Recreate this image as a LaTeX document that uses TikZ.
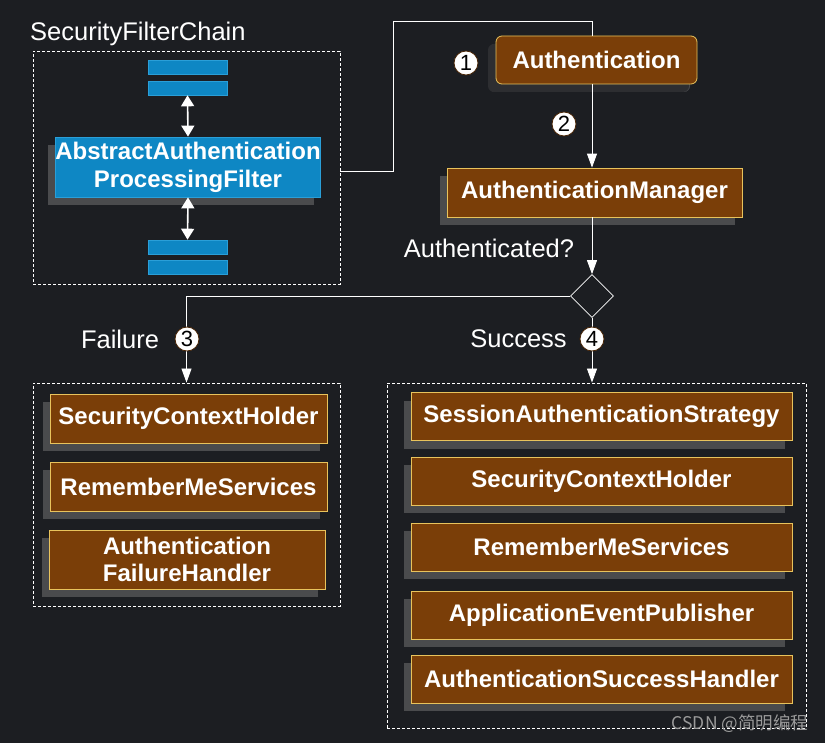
\documentclass[tikz,border=0pt]{standalone}
\usepackage{fontspec}
\setmainfont{Liberation Sans}
\newfontfamily\cjkfont{Noto Sans CJK SC}
\usepackage{tikz}
\usetikzlibrary{positioning,arrows.meta,shapes.geometric,shadows}

\definecolor{bgdark}{HTML}{1C1E22}
\definecolor{boxbrown}{HTML}{7A3E08}
\definecolor{boxedge}{HTML}{E8C35C}
\definecolor{filterblue}{HTML}{0E87C4}
\definecolor{filteredge}{HTML}{2A9FD8}
\definecolor{shadowgray}{HTML}{4A4B4D}
\definecolor{shadowdark}{HTML}{2D2E31}
\definecolor{markgray}{HTML}{9A9A9A}

\tikzset{
  box/.style={draw=boxedge, line width=0.8pt, fill=boxbrown, text=white,
    font=\fontsize{24}{27}\selectfont\bfseries, align=center, inner sep=0pt,
    drop shadow={shadow xshift=-7pt, shadow yshift=-8pt, fill=shadowgray, opacity=1}},
  filterbox/.style={draw=filteredge, line width=0.8pt, fill=filterblue, text=white,
    font=\fontsize{24}{28}\selectfont\bfseries, align=center, inner sep=0pt,
    drop shadow={shadow xshift=-7pt, shadow yshift=-8pt, fill=shadowgray, opacity=1}},
  bar/.style={draw=filteredge, line width=0.6pt, fill=filterblue,
    minimum width=79pt, minimum height=14pt, inner sep=0pt},
  group/.style={draw=white, line width=0.9pt, dash pattern=on 3pt off 2pt,
    inner sep=0pt},
  label/.style={text=white, font=\fontsize{25.5}{30}\selectfont, inner sep=0pt},
  num/.style={circle, fill=white, draw=boxbrown!60!black, line width=0.8pt,
    minimum size=24pt, inner sep=0pt, text=black, font=\fontsize{22}{22}\selectfont},
  link/.style={draw=white, line width=0.9pt},
  arrow/.style={link, -{Triangle[width=10pt,length=14pt]}},
  dblarrow/.style={draw=white, line width=1.6pt,
    {Triangle[width=13pt,length=11pt]}-{Triangle[width=13pt,length=11pt]}},
}

\begin{document}
\begin{tikzpicture}[x=1pt,y=-1pt]
  % Background and page size
  \fill[bgdark] (0,0) rectangle (825,743);
  \useasboundingbox (0,0) rectangle (825,743);

  % Security filter chain
  \node[label, anchor=base west] (chaintitle) at (30,41) {SecurityFilterChain};
  \node[group, minimum width=307pt, minimum height=233pt] (chain) at (186.5,167.5) {};
  \foreach \name/\y in {bar1/67, bar2/88, bar3/247, bar4/267} {
    \node[bar] (\name) at (187.5,\y) {};
  }
  \node[filterbox, minimum width=264pt, minimum height=60pt] (filter) at (188,167)
    {AbstractAuthentication\\ProcessingFilter};
  \draw[dblarrow] (bar2.south) -- (filter.north);
  \draw[dblarrow] (filter.south) -- (bar3.north);

  % Authentication and manager
  \coordinate (spine) at (592,0);
  \coordinate (bend) at (393,21);
  \node[box, rounded corners=6pt, minimum width=201pt, minimum height=48pt,
    drop shadow={shadow xshift=-8pt, shadow yshift=-8pt, fill=shadowdark, opacity=1}]
    (auth) at (596.5,60) {Authentication};
  \node[box, minimum width=295pt, minimum height=49pt] (manager) at (594.5,192.5)
    {AuthenticationManager};
  \node[num] (n1) at (466,63) {1};
  \node[num] (n2) at (564,124) {2};
  \draw[link] (chain.east |- 0,171) -| (bend) -| (auth.north -| spine);
  \draw[arrow] (auth.south -| spine) -- (manager.north -| spine);

  % Decision
  \node[label] (question) at (489,248) {Authenticated?};
  \node[diamond, draw=white, line width=0.7pt, minimum width=43pt, minimum height=43pt,
    inner sep=0pt] (decision) at (592,296) {};
  \draw[arrow] (manager.south -| spine) -- (decision.north);

  % Failure branch
  \node[group, minimum width=307pt, minimum height=223pt] (failure) at (186.5,494.5) {};
  \node[box, minimum width=277pt, minimum height=49pt] (fholder) at (188.5,418.5)
    {SecurityContextHolder};
  \node[box, minimum width=277pt, minimum height=49pt] (fremember) at (188.5,486.5)
    {RememberMeServices};
  \node[box, minimum width=276pt, minimum height=59pt] (fhandler) at (187,559.5)
    {Authentication\\FailureHandler};
  \draw[arrow] (decision.west) -| (failure.north);
  \node[label] (faillabel) at (120,339) {Failure};
  \node[num] (n3) at (187,339) {3};

  % Success branch
  \node[group, minimum width=419pt, minimum height=345pt] (success) at (596.5,555.5) {};
  \foreach \name/\y/\txt in {sstrategy/416.5/SessionAuthenticationStrategy,
      sholder/481/SecurityContextHolder,
      sremember/547/RememberMeServices,
      spublisher/615/ApplicationEventPublisher,
      shandler/679/AuthenticationSuccessHandler} {
    \node[box, minimum width=381pt, minimum height=48pt] (\name) at (601.5,\y) {\txt};
  }
  \draw[arrow] (decision.south) -- (decision.south |- success.north);
  \node[label] (succlabel) at (518.5,339) {Success};
  \node[num] (n4) at (592,339) {4};

  % Watermark
  \node[text=markgray, font=\cjkfont\fontsize{17.5}{17.5}\selectfont, inner sep=0pt]
    (mark) at (740,724) {CSDN @简明编程};
\end{tikzpicture}
\end{document}
